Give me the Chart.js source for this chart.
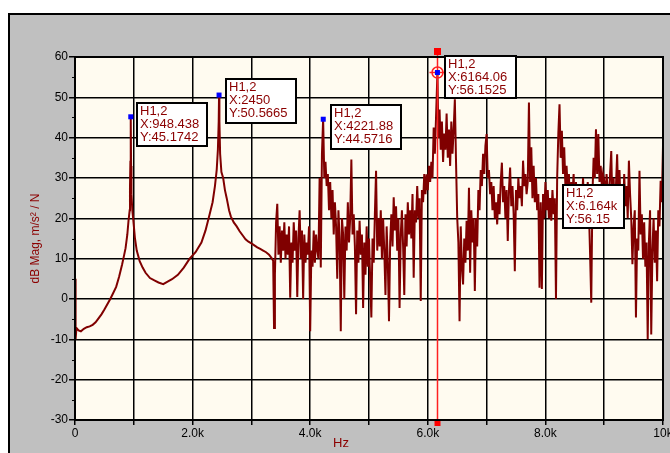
<!DOCTYPE html>
<html>
<head>
<meta charset="utf-8">
<script src="https://cdn.jsdelivr.net/npm/chart.js@4.4.0/dist/chart.umd.min.js"></script>
<style>
html, body { margin:0; padding:0; width:670px; height:453px; overflow:hidden; background:#fff; }
#marco { position:absolute; left:8px; top:13px; width:700px; height:500px; background:#c0c0c0; border:2px solid #000; }
#chart { position:absolute; left:0; top:0; }
</style>
</head>
<body>
<div id="marco"></div>
<canvas id="chart" width="670" height="453"></canvas>
<script>
'use strict'

// frequency axis of the trace (Hz)
const freqHz = [
  0, 10, 25, 60, 100, 150, 200, 250, 300, 350, 400, 450, 500, 550, 600, 650, 700, 750, 800, 830,
  860, 890, 910, 930, 935, 942, 948, 954, 960, 975, 990, 1020, 1050, 1100, 1150, 1200, 1275, 1350, 1420, 1500,
  1560, 1650, 1750, 1850, 1950, 2050, 2150, 2220, 2290, 2340, 2380, 2410, 2430, 2444, 2450, 2456, 2468, 2490, 2520, 2550,
  2580, 2620, 2650, 2700, 2750, 2800, 2850, 2900, 2950, 3000, 3050, 3100, 3150, 3200, 3250, 3300, 3350, 3370, 3385,
  3400, 3420, 3440, 3460, 3480, 3500, 3520, 3540, 3560, 3580,
  3600, 3620, 3640, 3660, 3680, 3700, 3720, 3740, 3760, 3780,
  3800, 3820, 3840, 3860, 3880, 3900, 3920, 3940, 3960, 3980,
  4000, 4020, 4040, 4060, 4080, 4100, 4120, 4140, 4160, 4180,
  4200, 4220, 4240, 4260, 4280, 4300, 4320, 4340, 4360, 4380,
  4400, 4420, 4440, 4460, 4480, 4500, 4520, 4540, 4560, 4580,
  4600, 4620, 4640, 4660, 4680, 4700, 4720, 4740, 4760, 4780,
  4800, 4820, 4840, 4860, 4880, 4900, 4920, 4940, 4960, 4980,
  5000, 5020, 5040, 5060, 5080, 5100, 5120, 5140, 5160, 5180,
  5200, 5220, 5240, 5260, 5280, 5300, 5320, 5340, 5360, 5380,
  5400, 5420, 5440, 5460, 5480, 5500, 5520, 5540, 5560, 5580,
  5600, 5620, 5640, 5660, 5680, 5700, 5720, 5740, 5760, 5780,
  5800, 5820, 5840, 5860, 5880, 5900, 5920, 5940, 5960, 5980,
  6000, 6020, 6040, 6060, 6080, 6100, 6120, 6140, 6164, 6180,
  6200, 6220, 6240, 6260, 6280, 6300, 6320, 6340, 6360, 6380,
  6400, 6420, 6440, 6460, 6480, 6500, 6520, 6540, 6560, 6580,
  6600, 6620, 6640, 6660, 6680, 6700, 6720, 6740, 6760, 6780,
  6800, 6820, 6840, 6860, 6880, 6900, 6920, 6940, 6960, 6980,
  7000, 7020, 7040, 7060, 7080, 7100, 7120, 7140, 7160, 7180,
  7200, 7220, 7240, 7260, 7280, 7300, 7320, 7340, 7360, 7380,
  7400, 7420, 7440, 7460, 7480, 7500, 7520, 7540, 7560, 7580,
  7600, 7620, 7640, 7660, 7680, 7700, 7720, 7740, 7760, 7780,
  7800, 7820, 7840, 7860, 7880, 7900, 7920, 7940, 7960, 7980,
  8000, 8020, 8040, 8060, 8080, 8100, 8120, 8140, 8160, 8180,
  8200, 8220, 8240, 8260, 8280, 8300, 8320, 8340, 8360, 8380,
  8400, 8420, 8440, 8460, 8480, 8500, 8520, 8540, 8560, 8580,
  8600, 8620, 8640, 8660, 8680, 8700, 8720, 8740, 8760, 8780,
  8800, 8820, 8840, 8860, 8880, 8900, 8920, 8940, 8960, 8980,
  9000, 9020, 9040, 9060, 9080, 9100, 9120, 9140, 9160, 9180,
  9200, 9220, 9240, 9260, 9280, 9300, 9320, 9340, 9360, 9380,
  9400, 9420, 9440, 9460, 9480, 9500, 9520, 9540, 9560, 9580,
  9600, 9620, 9640, 9660, 9680, 9700, 9720, 9740, 9760, 9780,
  9800, 9820, 9840, 9860, 9880, 9900, 9920, 9940, 9960, 9980,
  10000
];

// H1,2 magnitude (dB)
const magDb = [
  5, -10, -7.2, -7.8, -8, -7.4, -7, -6.8, -6.4, -5.8, -4.8, -3.8, -2.6, -1.3, 0, 1.5, 3, 5.5, 8.5, 10.5,
  12.6, 16, 19.4, 22, 27.5, 34, 45.2, 33, 26, 22, 19.8, 15, 12, 9.4, 7.8, 6.5, 5.2, 4.6, 4.1, 3.7,
  4.2, 4.9, 6, 7.8, 10, 11.6, 14, 17, 21, 24, 28, 32, 37, 44, 50.6, 44, 36, 31.5, 30, 27,
  25, 22, 20.5, 19, 18, 16.8, 15.8, 14.8, 14.2, 13.8, 13.3, 12.8, 12.4, 12, 11.6, 11, 10, 9.5, -7.2,
  6, 19, 23.6, 11, 18, 9, 17, 12, 19, 10,
  16, 11, 18, 0.3, 14, 9, 19, 12, 17, 0.5,
  15, 22, 10, 17, 0, 16, 9, 14, 11, 18,
  -8, 12, 8, 17, 9, 16, 12, 10, 30, 7.8,
  36, 44.6, 30, 34, 28, 31, 22, 29, 20, 27,
  16, 24, 18, 5, 22, 15, -8, 20, 16, 0,
  18, 12, 24, 14, 20, 34.6, 16, 21, 13, -3.8,
  17, 9, 19.4, 11, 16, -2.2, 14, 6, 18, 8,
  15, 5, -4.6, 15, 9, 21, 31.8, 12, 20, 13,
  22, 10, 20, 12, 1, 18, 9, -5.5, 14, 21,
  13, 25.2, 17, 23, 12, 20, -2.2, 16, 22, 13,
  1, 21, 13, 24, 16, 22, 15, 26, 5.3, 22,
  19, 28, 20, 25, -0.5, 27, 24, 31, 26, 30.9,
  27, 33, 29, 34, 30, 42.5, 36, 45, 56.15, 40,
  47, 37, 44, 34, 41, 37, 46, 35, 42, 33,
  44, 36, 42, 49.5, 34, 20.2, 14, -5.5, 18, 8,
  3.6, 15, 9, 19.4, 12, 27.6, 6.5, 22, 14, 20,
  2, 20, 13, 27, 22, 32, 28, 36, 31, 38,
  40.9, 30, 32, 26, 29, 22, 28, 20, 24, 18.5,
  26, 21, 29, 33.8, 24, 28, 20, 27, 14.4, 27,
  32.6, 23, 28, 21, 6.9, 27, 22, 30, 25, 28,
  23, 34.3, 28, 31, 26, 29, 48.7, 29, 37.6, 25,
  33, 24, 30, 22, 26, 2.8, 24, 2.5, 26, 20,
  29, 22, 27, 20, 25, 19.4, 27, 21, 25, 0,
  30, 41, 48.3, 35, 41.7, 31, 37.6, 28, 33, 27,
  31, 22, 29, 26, 31, 21, 29, 23, 28, 21,
  28, 23, 30, 22, 27, 24, 29, 22, 11.1, -0.9,
  26, 35, 30, 42.1, 31, 40.9, 29, 33, 28, 31,
  29.3, 24, 31, 27, 24, 31, 36.7, 22, 30, 21,
  28, 35.9, 24, 32, 22, 28, 19, 31, 23, 28,
  20, 34.3, 26, 20, 8.6, 18, 22, -4.6, 15, 12,
  31.8, 16, 21, 10, 19, 8, 14, -10, 14, 22,
  -8.8, 12, 20, 9, 17, 4.4, 22, 18, 29.3, 24,
  38
];

// peak markers with their readouts
const peakHz = [948.438, 2450, 4221.88, 6164.06];
const peakDb = [45.1742, 50.5665, 44.5716, 56.1525];
const peakText = [
  ['H1,2', 'X:948.438', 'Y:45.1742'],
  ['H1,2', 'X:2450', 'Y:50.5665'],
  ['H1,2', 'X:4221.88', 'Y:44.5716'],
  ['H1,2', 'X:6164.06', 'Y:56.1525']
];

// cursor
const cursorHz = 6164.06;
const cursorDb = 56.15;
const cursorText = ['H1,2', 'X:6.164k', 'Y:56.15'];

const xTickLabels = ['0', '2.0k', '4.0k', '6.0k', '8.0k', '10k'];
const yTitle = 'dB Mag, m/s\u00B2 / N';
const xTitle = 'Hz';

// layout of readout boxes (offset from the marked point, size)
const boxOffsets = [[6, -14], [7, -16], [8, -14], [8, -17]];
const boxSizes = [[70, 43], [70, 44], [70, 44], [71, 42]];
const cursorBox = [563, 185, 61, 43];

const FONT = "'Liberation Sans Narrow', 'Liberation Sans', Arial, sans-serif";
const DARKRED = '#800000';
const TEXTRED = '#8b0000';

function drawBox(ctx, x, y, w, h, lines) {
  ctx.save();
  ctx.fillStyle = '#fff';
  ctx.fillRect(x, y, w, h);
  ctx.strokeStyle = '#000';
  ctx.lineWidth = 2;
  ctx.strokeRect(x, y, w, h);
  ctx.fillStyle = TEXTRED;
  ctx.font = '13px ' + FONT;
  ctx.textBaseline = 'top';
  ctx.textAlign = 'left';
  lines.forEach((t, i) => ctx.fillText(t, x + 3, y + 2 + i * 13));
  ctx.restore();
}

const extras = {
  id: 'extras',
  beforeDraw(chart) {
    const a = chart.chartArea;
    const ctx = chart.ctx;
    ctx.save();
    ctx.fillStyle = '#fffbf0';
    ctx.fillRect(a.left, a.top, a.right - a.left, a.bottom - a.top);
    ctx.restore();
  },
  afterDatasetsDraw(chart) {
    const ctx = chart.ctx;
    const xs = chart.scales.x, ys = chart.scales.y;
    // cursor line
    const cx = Math.round(xs.getPixelForValue(cursorHz)) + 0.5;
    const a = chart.chartArea;
    ctx.save();
    ctx.strokeStyle = '#ff2020';
    ctx.lineWidth = 1.5;
    ctx.beginPath();
    ctx.moveTo(cx, a.top - 5);
    ctx.lineTo(cx, a.bottom + 4);
    ctx.stroke();
    ctx.fillStyle = '#ff0000';
    ctx.fillRect(cx - 3.5, a.top - 9, 7, 7);
    ctx.fillRect(cx - 3, a.bottom + 1, 6, 5);
    // target around cursor point
    const cy = ys.getPixelForValue(cursorDb);
    ctx.beginPath();
    ctx.arc(cx, cy, 5.5, 0, Math.PI * 2);
    ctx.moveTo(cx - 8, cy);
    ctx.lineTo(cx + 8, cy);
    ctx.stroke();
    // blue markers
    ctx.fillStyle = '#0000ff';
    peakHz.forEach((f, i) => {
      const px = xs.getPixelForValue(f), py = ys.getPixelForValue(peakDb[i]);
      ctx.fillRect(px - 2.5, py - 2.5, 5, 5);
    });
    ctx.restore();
  },
  afterDraw(chart) {
    const ctx = chart.ctx;
    const xs = chart.scales.x, ys = chart.scales.y;
    const a = chart.chartArea;
    ctx.save();
    ctx.strokeStyle = '#000';
    ctx.lineWidth = 2;
    ctx.strokeRect(a.left, a.top, a.right - a.left, a.bottom - a.top);
    // minor ticks on y axis
    ctx.lineWidth = 1;
    for (let v = -25; v < 60; v += 10) {
      const py = Math.round(ys.getPixelForValue(v)) + 0.5;
      ctx.beginPath();
      ctx.moveTo(a.left - 3, py);
      ctx.lineTo(a.left, py);
      ctx.stroke();
    }
    // x title
    ctx.fillStyle = TEXTRED;
    ctx.font = '13px ' + FONT;
    ctx.textAlign = 'center';
    ctx.textBaseline = 'middle';
    ctx.fillText(xTitle, 341, 443);
    ctx.restore();
    peakHz.forEach((f, i) => {
      const px = xs.getPixelForValue(f), py = ys.getPixelForValue(peakDb[i]);
      drawBox(ctx, Math.round(px + boxOffsets[i][0]), Math.round(py + boxOffsets[i][1]),
        boxSizes[i][0], boxSizes[i][1], peakText[i]);
    });
    drawBox(ctx, cursorBox[0], cursorBox[1], cursorBox[2], cursorBox[3], cursorText);
  }
};

function dibujar() {
  const ctx = document.getElementById('chart').getContext('2d');
  const puntos = freqHz.map((f, i) => ({ x: f, y: magDb[i] }));

  new Chart(ctx, {
    type: 'line',
    data: {
      datasets: [{
        label: 'H1,2',
        data: puntos,
        borderColor: DARKRED,
        borderWidth: 2,
        pointRadius: 0,
        tension: 0,
        fill: false
      }]
    },
    options: {
      responsive: false,
      animation: false,
      layout: { padding: { left: 0, top: 57, right: 7, bottom: 0 } },
      plugins: { legend: { display: false }, tooltip: { enabled: false } },
      scales: {
        x: {
          type: 'linear',
          min: 0,
          max: 10000,
          ticks: {
            stepSize: 1000,
            autoSkip: false,
            maxRotation: 0,
            padding: 1,
            color: '#000',
            font: { family: FONT, size: 12 },
            callback: v => (v % 2000 === 0 ? xTickLabels[v / 2000] : '')
          },
          grid: { color: '#000', lineWidth: 1.5, tickLength: 5 },
          border: { color: '#000', width: 2 },
          afterFit: s => { s.height = 33; s.paddingLeft = 0; s.paddingRight = 0; }
        },
        y: {
          min: -30,
          max: 60,
          ticks: {
            stepSize: 10,
            padding: 1,
            color: '#000',
            font: { family: FONT, size: 12 }
          },
          grid: { color: '#000', lineWidth: 1.5, tickLength: 6 },
          border: { color: '#000', width: 2 },
          title: {
            display: true,
            text: yTitle,
            color: TEXTRED,
            font: { family: FONT, size: 12 },
            padding: { top: 28, bottom: 0 }
          },
          afterFit: s => { s.width = 75; s.paddingTop = 0; s.paddingBottom = 0; }
        }
      }
    },
    plugins: [extras]
  });
}

dibujar();
</script>
</body>
</html>
